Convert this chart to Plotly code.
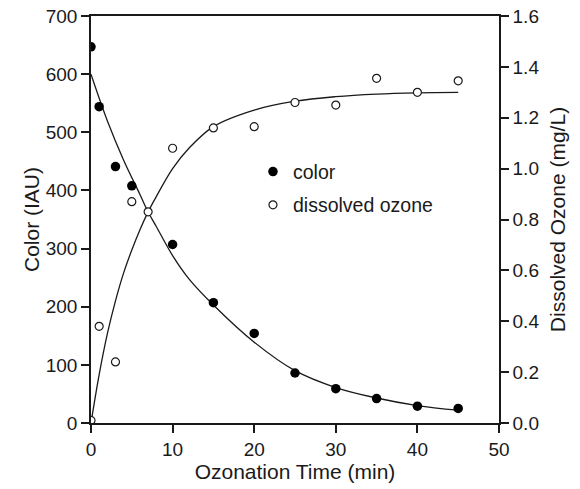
import plotly.graph_objects as go

# Measured data
time_color = [0, 1, 3, 5, 10, 15, 20, 25, 30, 35, 40, 45]
color_vals = [647, 544, 441, 408, 307, 207, 154, 86, 59, 42, 29, 25]

time_ozone = [0, 1, 3, 5, 7, 10, 15, 20, 25, 30, 35, 40, 45]
ozone_vals = [0.01, 0.38, 0.24, 0.87, 0.83, 1.08, 1.16, 1.165, 1.26, 1.25, 1.355, 1.30, 1.345]

# Fitted curves
fit_color_t = [0, 2, 4, 6, 7, 8, 10, 12, 15, 20, 25, 30, 35, 40, 45]
fit_color_v = [600, 520, 452, 393, 363, 338, 288, 248, 203, 139, 90, 61, 43, 30, 22]

fit_ozone_t = [0, 1, 2, 3, 4, 5, 6, 7, 8, 10, 12, 15, 20, 25, 30, 35, 40, 45]
fit_ozone_v = [0.0, 0.19, 0.35, 0.48, 0.59, 0.68, 0.76, 0.83, 0.89, 1.0, 1.08, 1.165, 1.23, 1.265, 1.283, 1.293, 1.298, 1.30]

FONT = "Liberation Sans, Arial, sans-serif"
INK = "#1a1a1a"

fig = go.Figure()

fig.add_trace(go.Scatter(x=fit_color_t, y=fit_color_v, mode="lines", line=dict(color=INK, width=1.3, shape="spline"),
                         showlegend=False, hoverinfo="skip"))
fig.add_trace(go.Scatter(x=fit_ozone_t, y=fit_ozone_v, mode="lines", yaxis="y2", line=dict(color=INK, width=1.3, shape="spline"),
                         showlegend=False, hoverinfo="skip"))
fig.add_trace(go.Scatter(x=time_color, y=color_vals, mode="markers", name="color", legendgroup="a",
                         marker=dict(symbol="circle", size=9.5, color="black", line=dict(width=0))))
fig.add_trace(go.Scatter(x=time_ozone, y=ozone_vals, mode="markers", name="dissolved ozone", yaxis="y2", legendgroup="b",
                         marker=dict(symbol="circle", size=8, color="white", line=dict(color=INK, width=1.2))))

fig.update_layout(
    width=580, height=489,
    margin=dict(l=91, r=81, t=16, b=66),
    paper_bgcolor="white", plot_bgcolor="white",
    font=dict(family=FONT, size=19, color=INK),
    showlegend=True,
    legend=dict(x=0.397, y=0.665, xanchor="left", yanchor="top", bgcolor="rgba(0,0,0,0)",
                font=dict(size=19.5), itemsizing="trace", traceorder="grouped", tracegroupgap=5),
    xaxis=dict(range=[0, 50], tickvals=[0, 10, 20, 30, 40, 50], ticks="outside", ticklen=8, tickwidth=1.5,
               tickcolor=INK, showline=True, linecolor=INK, linewidth=1.5, mirror=True, showgrid=False,
               zeroline=False, ticklabeloverflow="allow", automargin=False,
               title=dict(text="Ozonation Time (min)", font=dict(size=21), standoff=6)),
    yaxis=dict(range=[0, 700], tickvals=[0, 100, 200, 300, 400, 500, 600, 700], ticks="outside", ticklen=8,
               tickwidth=1.5, tickcolor=INK, showline=True, linecolor=INK, linewidth=1.5, showgrid=False,
               zeroline=False, ticklabeloverflow="allow", automargin=False,
               title=dict(text="Color (IAU)", font=dict(size=21), standoff=0)),
    yaxis2=dict(range=[0, 1.6], tickvals=[0, 0.2, 0.4, 0.6, 0.8, 1.0, 1.2, 1.4, 1.6], tickformat=".1f",
                overlaying="y", side="right", ticks="outside", ticklen=8, tickwidth=1.5, tickcolor=INK,
                showline=True, linecolor=INK, linewidth=1.5, showgrid=False, zeroline=False,
                ticklabeloverflow="allow", automargin=False,
                title=dict(text="Dissolved Ozone (mg/L)", font=dict(size=21), standoff=12)),
)

fig.write_html("out.html", config={"displayModeBar": False},
               post_script="document.body.style.margin='0';")
